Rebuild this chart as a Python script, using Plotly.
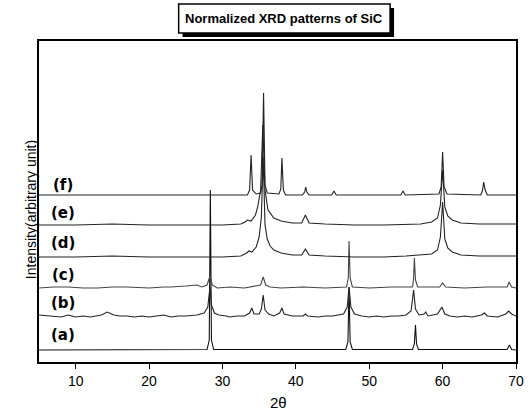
import plotly.graph_objects as go

# ---- data (2theta, relative intensity) ----
labels = ["(a)", "(b)", "(c)", "(d)", "(e)", "(f)"]
offsets = [12, 45, 74, 105, 137, 167]
label_y = [27, 59, 87, 119, 149, 177]

a_x = [5, 27.9, 28.2, 28.35, 28.5, 28.8, 46.8, 47.1, 47.25, 47.4, 47.7, 55.9, 56.15, 56.3, 56.45, 56.7, 68.8, 69.1, 69.4, 70]
a_y = [0, 0.5, 10, 160, 10, 0.5, 0.5, 8, 63, 8, 0.5, 0.5, 6, 25, 6, 0.5, 0.5, 5, 0.5, 0]

b_x = [5, 6.5, 8, 9, 10, 11, 12, 13.5, 14.3, 15.2, 16, 17, 18, 19, 20, 21, 22, 23, 24, 25, 26.5, 27.5, 28.0, 28.3, 28.5, 28.9, 29.5, 30.5, 31, 32, 33,
       33.7, 34.0, 34.3, 35.0, 35.3, 35.55, 35.8, 36.3, 37, 37.8, 38.1, 38.4, 39.5, 41.0, 41.3, 41.6, 43, 44, 45, 46.5,
       47.0, 47.25, 47.5, 48, 49, 50, 51, 52, 53, 54, 55, 55.7, 56.05, 56.3, 56.8, 57.5, 57.7, 58, 59.3, 59.9, 60.3, 61,
       62, 63, 64, 65.3, 65.7, 66.1, 67.5, 68.6, 69.0, 69.4, 70]
b_y = [2, 1, 0, 2, 0, 1, 0, 2, 5, 2, 1, 1, 0, 1, 0, 1, 2, 0, 1, 1, 2, 4, 10, 30, 12, 4, 2, 1, 0, 1, 1,
       4, 9, 3, 3, 8, 22, 7, 3, 1, 4, 9, 3, 1, 1, 3, 1, 0, 1, 1, 3,
       10, 30, 10, 3, 1, 0, 1, 0, 1, 1, 2, 6, 27, 8, 2, 3, 5, 1, 3, 10, 3, 1,
       0, 1, 0, 2, 4, 1, 0, 3, 6, 3, 1]

c_x = [5, 7, 9, 11, 13, 15, 17, 19, 20, 22, 23, 25, 26.5, 27.2, 27.9, 28.3, 28.6, 29.3, 31, 33, 35.2, 35.55, 35.9, 36.5, 38, 41,
       44, 46.9, 47.15, 47.25, 47.4, 47.7, 50, 53, 55.9, 56.05, 56.15, 56.3, 56.6, 59.6, 60.0, 60.4, 63, 66, 68.8, 69.05, 69.4, 70]
c_y = [0, 1, 1, 0, 0, 1, 1, 0, 0, 1, 1, 2, 3, 1, 3, 12, 3, 0, 1, 0, 3, 11, 3, 1, 0, 1,
       0, 1, 10, 47, 10, 1, 0, 1, 1, 10, 30, 8, 1, 1, 5, 1, 0, 1, 1, 6, 1, 0]

d_x = [5, 10, 15, 20, 25, 30, 32.5, 33.3, 33.6, 34.0, 34.6, 35.0, 35.3, 35.55, 35.8, 36.1, 36.5, 37.0, 38.0, 39.5, 40.8, 41.3, 41.8,
       44, 48, 52, 55, 57, 58.5, 59.3, 59.7, 60.0, 60.3, 60.7, 61.3, 62.5, 65, 70]
d_y = [0, 0, 1, 0, 0, 0, 1, 4, 6, 5, 10, 20, 40, 100, 32, 18, 11, 7, 4, 2, 2, 8, 2,
       1, 0, 0, 1, 2, 3, 7, 20, 55, 18, 9, 5, 2, 1, 1]

e_x = [5, 10, 15, 20, 25, 30, 32.5, 33.1, 33.4, 33.9, 34.5, 34.8, 35.2, 35.5, 35.8, 36.2, 37.0, 38.0, 39.5, 40.8, 41.3, 41.8,
       44, 48, 52, 55, 57, 58.5, 59.3, 59.7, 60.0, 60.3, 60.7, 61.3, 62.5, 65, 70]
e_y = [0, 0, 1, 0, 0, 0, 1, 3, 5, 4, 10, 18, 35, 100, 35, 15, 7, 4, 2, 2, 10, 2,
       1, 0, 0, 1, 1, 3, 7, 20, 55, 18, 9, 5, 2, 1, 1]

f_x = [5, 33.4, 33.7, 33.9, 34.1, 34.6, 35.2, 35.4, 35.6, 35.8, 36.1, 37.7, 37.95, 38.1, 38.3, 38.6, 40.9, 41.2, 41.35, 41.5, 41.8,
       44.9, 45.2, 45.5, 54.3, 54.6, 54.9, 59.5, 59.8, 60.0, 60.2, 60.6, 65.2, 65.45, 65.6, 65.8, 66.1, 70]
f_y = [0, 0, 5, 40, 5, 1, 2, 10, 102, 10, 2, 1, 6, 37, 5, 0, 0, 3, 8, 3, 0,
       0, 4, 0, 0, 4, 0, 1, 8, 43, 8, 1, 0, 5, 13, 5, 0, 0]

series_x = [a_x, b_x, c_x, d_x, e_x, f_x]
series_y = [a_y, b_y, c_y, d_y, e_y, f_y]
x_ticks = [10, 20, 30, 40, 50, 60, 70]

title_text = "Normalized XRD patterns of SiC"

WIDE = "DejaVu Sans, Liberation Sans, Arial, sans-serif"
SANS = "Liberation Sans, Arial, sans-serif"

# ---- layout helpers (pixel geometry of the plot area) ----
W, H = 532, 411
L, R, T, B = 39, 524, 41, 362
def px(x):
    return (x - L) / (R - L)
def py(y):
    return (B - y) / (B - T)

line_colors = ["#111111", "#222222", "#444444", "#222222", "#222222", "#222222"]

fig = go.Figure()
for i in range(len(labels)):
    fig.add_trace(go.Scatter(
        x=series_x[i],
        y=[v + offsets[i] for v in series_y[i]],
        mode="lines",
        line=dict(color=line_colors[i], width=1.1),
        showlegend=False,
        hoverinfo="skip",
    ))

annotations = []
for i, lab in enumerate(labels):
    annotations.append(dict(
        x=8.3, y=label_y[i], xref="x", yref="y", text="<b>" + lab + "</b>", showarrow=False,
        font=dict(family=WIDE, size=15, color="black"),
        xanchor="center", yanchor="middle",
    ))

# title
annotations.append(dict(
    x=px(288.5), y=py(18.5), xref="paper", yref="paper", text="<b>" + title_text + "</b>",
    showarrow=False, font=dict(family=SANS, size=13, color="black"),
    xanchor="center", yanchor="middle",
))
# y title
annotations.append(dict(
    x=px(31), y=py(210), xref="paper", yref="paper", text="Intensity(arbitrary unit)",
    showarrow=False, textangle=-90, font=dict(family=SANS, size=14, color="black"),
    xanchor="center", yanchor="middle",
))
# x title
annotations.append(dict(
    x=px(283), y=py(402), xref="paper", yref="paper", text="2θ",
    showarrow=False, font=dict(family=SANS, size=15, color="black"),
    xanchor="center", yanchor="middle",
))

shapes = [
    # shadow of title box
    dict(type="rect", xref="paper", yref="paper",
         x0=px(185), x1=px(400), y0=py(37), y1=py(8),
         fillcolor="black", line=dict(width=0), layer="above"),
    # title box
    dict(type="rect", xref="paper", yref="paper",
         x0=px(181), x1=px(396), y0=py(33), y1=py(4),
         fillcolor="white", line=dict(color="black", width=1.5), layer="above"),
]

fig.update_layout(
    width=W, height=H,
    margin=dict(l=L, r=W - R, t=T, b=H - B),
    paper_bgcolor="white", plot_bgcolor="white",
    annotations=annotations, shapes=shapes,
    font=dict(family=SANS, color="black"),
)
fig.update_xaxes(
    range=[5, 70], tickvals=x_ticks, ticktext=[str(t) for t in x_ticks],
    ticks="outside", ticklen=5, tickwidth=1, tickcolor="black",
    showline=True, linecolor="black", linewidth=1.5, mirror=True,
    showgrid=False, zeroline=False,
    tickfont=dict(family=SANS, size=14, color="black"),
)
fig.update_yaxes(
    range=[0, B - T], showticklabels=False, ticks="",
    showline=True, linecolor="black", linewidth=1.5, mirror=True,
    showgrid=False, zeroline=False,
)

fig.write_html("out.html", config={"displayModeBar": False},
               post_script="document.body.style.margin='0';document.body.style.overflow='hidden';")
